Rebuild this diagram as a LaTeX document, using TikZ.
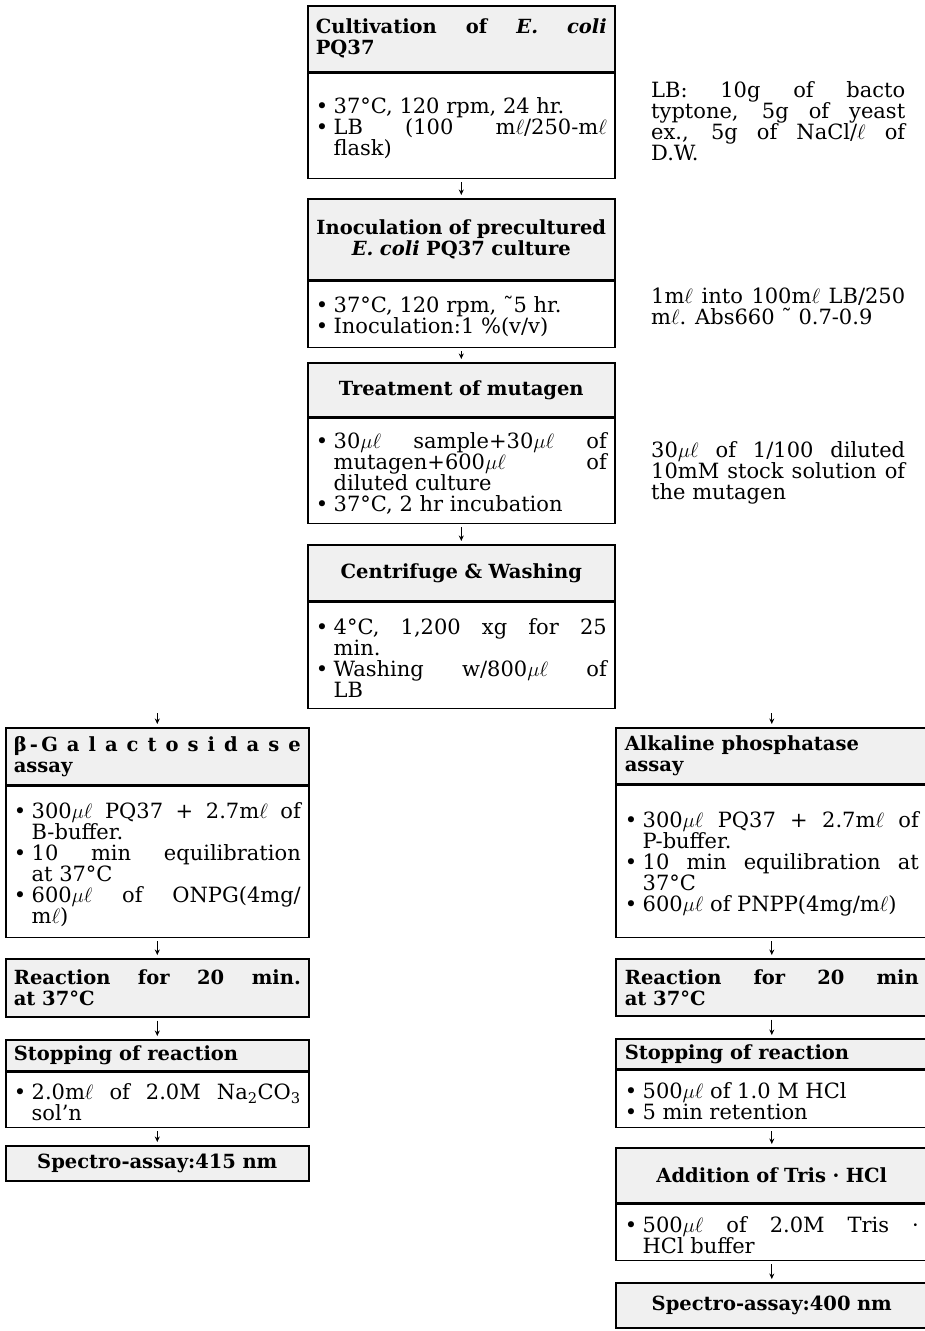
\documentclass[tikz,border=0pt]{standalone}
\usepackage{fontspec}
\setmainfont{DejaVu Serif}
\usetikzlibrary{arrows.meta,positioning}
\newcommand{\boxcolor}{gray!12}
\newcommand{\rulewidth}{1.6pt}
\newcommand{\bdfont}{\fontsize{21}{21}\selectfont\parindent=0pt\tolerance=9999\hbadness=10000\hyphenpenalty=10000}
\newcommand{\hdfont}{\fontsize{19.5}{21}\selectfont\bfseries\parindent=0pt\tolerance=9999\hbadness=10000\hyphenpenalty=10000}
\newcommand{\itm}{\par\noindent\hangindent=0.85em\hangafter=1\makebox[0.85em][l]{•}}
\newcommand{\uL}{$\mu\ell$}
\newcommand{\mL}{m$\ell$}

\begin{document}
\begin{tikzpicture}[x=1pt,y=-1pt,
  box/.style={draw, line width=\rulewidth, anchor=north west, inner xsep=8pt, inner ysep=0pt, align=justify},
  head/.style={box, fill=\boxcolor, font=\hdfont},
  body/.style={box, fill=white, font=\bdfont},
  colc/.style={text width=291pt},
  coll/.style={text width=287pt},
  colr/.style={text width=294pt, inner xsep=9pt},
  note/.style={anchor=north west, inner sep=0pt, text width=254pt, align=justify, font=\bdfont},
  arr/.style={-{Stealth[length=5.5pt,width=5pt]}, line width=1.2pt}]
\useasboundingbox (0,0) rectangle (924,1331);
% main column
\node[head, colc, minimum height=66pt] (cult) at (307,5) {Cultivation of \textit{E. coli}\linebreak PQ37};
\node[body, colc, minimum height=105pt] (cultbody) at (cult.south west) {\itm 37°C, 120 rpm, 24 hr.\itm LB (100 \mL/250-\mL\linebreak flask)\par};
\node[head, colc, minimum height=81pt, align=center] (inoc) at (307,198) {Inoculation of precultured\\ \textit{E. coli} PQ37 culture};
\node[body, colc, minimum height=66pt] (inocbody) at (inoc.south west) {\itm 37°C, 120 rpm, ˜5 hr.\itm Inoculation:1 \%(v/v)\par};
\node[head, colc, minimum height=54pt, align=center] (mut) at (307,362) {Treatment of mutagen};
\node[body, colc, minimum height=105pt] (mutbody) at (mut.south west) {\itm 30\uL{} sample+30\uL{} of\linebreak mutagen+600\uL{} of\linebreak diluted culture\itm 37°C, 2 hr incubation\par};
\node[head, colc, minimum height=56pt, align=center] (wash) at (307,544) {Centrifuge \& Washing};
\node[body, colc, minimum height=106pt] (washbody) at (wash.south west) {\itm 4°C, 1,200 xg for 25\linebreak min.\itm Washing w/800\uL{} of\linebreak LB\par};
% notes
\node[note] (lbnote) at (651,81) {LB: 10g of bacto\linebreak typtone, 5g of yeast\linebreak ex., 5g of NaCl/$\ell$ of\linebreak D.W.};
\node[note] (inocnote) at (651,288) {1\mL{} into 100\mL{} LB/250\linebreak \mL. Abs660 ˜ 0.7-0.9};
\node[note] (mutnote) at (651,441) {30\uL{} of 1/100 diluted\linebreak 10mM stock solution of\linebreak the mutagen};
% galactosidase column
\node[head, coll, minimum height=57pt] (gal) at (5,727) {β\,-\,G a l a c t o s i d a s e\linebreak assay};
\node[body, coll, minimum height=151pt] (galbody) at (gal.south west) {\itm 300\uL{} PQ37 + 2.7\mL{} of\linebreak B-buffer.\itm 10 min equilibration\linebreak at 37°C\itm 600\uL{} of ONPG(4mg/\linebreak \mL)\par};
\node[head, coll, minimum height=58pt] (galreac) at (5,958) {Reaction for 20 min.\linebreak at 37°C};
\node[head, coll, minimum height=31pt] (galstop) at (5,1039) {Stopping of reaction};
\node[body, coll, minimum height=55pt] (galstopbody) at (galstop.south west) {\itm 2.0\mL{} of 2.0M Na\textsubscript{2}CO\textsubscript{3}\linebreak sol'n\par};
\node[head, coll, minimum height=35pt, align=center] (galspec) at (5,1145) {Spectro-assay:415 nm};
% phosphatase column
\node[head, colr, minimum height=56pt] (pho) at (615,727) {Alkaline phosphatase\newline assay};
\node[body, colr, minimum height=152pt] (phobody) at (pho.south west) {\itm 300\uL{} PQ37 + 2.7\mL{} of\linebreak P-buffer.\itm 10 min equilibration at\linebreak 37°C\itm 600\uL{} of PNPP(4mg/\mL)\par};
\node[head, colr, minimum height=57pt] (phoreac) at (615,958) {Reaction for 20 min\linebreak at 37°C};
\node[head, colr, minimum height=30pt] (phostop) at (615,1038) {Stopping of reaction};
\node[body, colr, minimum height=57pt] (phostopbody) at (phostop.south west) {\itm 500\uL{} of 1.0 M HCl\itm 5 min retention\par};
\node[head, colr, minimum height=55pt, align=center] (tris) at (615,1147) {Addition of Tris · HCl};
\node[body, colr, minimum height=56pt] (trisbody) at (tris.south west) {\itm 500\uL{} of 2.0M Tris ·\linebreak HCl buffer\par};
\node[head, colr, minimum height=45pt, align=center] (phospec) at (615,1282) {Spectro-assay:400 nm};
% arrows
\coordinate (togal) at ([yshift=14pt]gal.north);
\coordinate (topho) at ([yshift=14pt]pho.north);
\draw[arr] ([yshift=-3pt]cultbody.south) -- ([yshift=3pt]inoc.north);
\draw[arr] ([yshift=-3pt]inocbody.south) -- ([yshift=3pt]mut.north);
\draw[arr] ([yshift=-3pt]mutbody.south) -- ([yshift=3pt]wash.north);
\draw[arr] (togal) -- ([yshift=3pt]gal.north);
\draw[arr] (topho) -- ([yshift=3pt]pho.north);
\draw[arr] ([yshift=-3pt]galbody.south) -- ([yshift=3pt]galreac.north);
\draw[arr] ([yshift=-3pt]galreac.south) -- ([yshift=3pt]galstop.north);
\draw[arr] ([yshift=-3pt]galstopbody.south) -- ([yshift=3pt]galspec.north);
\draw[arr] ([yshift=-3pt]phobody.south) -- ([yshift=3pt]phoreac.north);
\draw[arr] ([yshift=-3pt]phoreac.south) -- ([yshift=3pt]phostop.north);
\draw[arr] ([yshift=-3pt]phostopbody.south) -- ([yshift=3pt]tris.north);
\draw[arr] ([yshift=-3pt]trisbody.south) -- ([yshift=3pt]phospec.north);
\end{tikzpicture}
\end{document}
